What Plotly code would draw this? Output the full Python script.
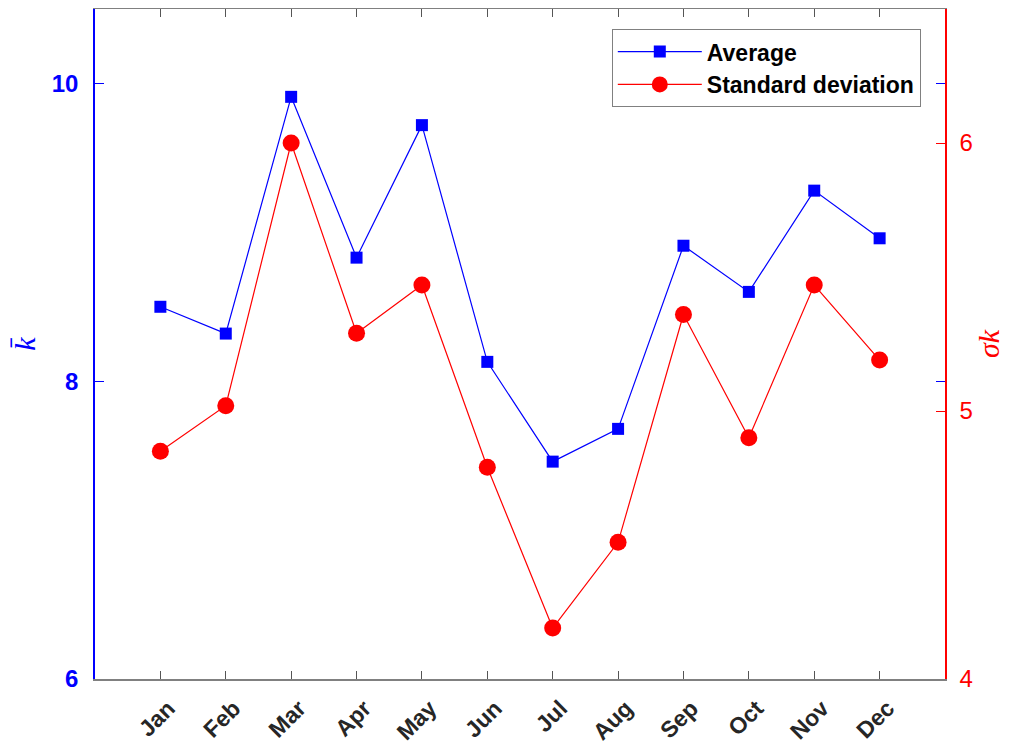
import plotly.graph_objects as go

months = ["Jan", "Feb", "Mar", "Apr", "May", "Jun", "Jul", "Aug", "Sep", "Oct", "Nov", "Dec"]
month_pos = list(range(1, 13))
average = [8.50, 8.32, 9.91, 8.83, 9.72, 8.13, 7.46, 7.68, 8.91, 8.60, 9.28, 8.96]
std_dev = [4.85, 5.02, 6.00, 5.29, 5.47, 4.79, 4.19, 4.51, 5.36, 4.90, 5.47, 5.19]

BLUE = "#0000FF"
RED = "#FF0000"
GREY = "#808080"
FONT = "Liberation Sans, Arial, sans-serif"

fig = go.Figure()
fig.add_trace(go.Scatter(
    x=month_pos, y=average, name="Average", mode="lines+markers",
    line=dict(color=BLUE, width=1.2),
    marker=dict(symbol="square", size=12, color=BLUE),
    yaxis="y",
))
fig.add_trace(go.Scatter(
    x=month_pos, y=std_dev, name="Standard deviation", mode="lines+markers",
    line=dict(color=RED, width=1.2),
    marker=dict(symbol="circle", size=17, color=RED),
    yaxis="y2",
))

fig.update_layout(
    width=1001, height=738,
    margin=dict(l=87, r=64, t=1, b=67),
    paper_bgcolor="white", plot_bgcolor="white",
    showlegend=True,
    legend=dict(
        x=0.608, y=0.97, xanchor="left", yanchor="top",
        bgcolor="white", bordercolor=GREY, borderwidth=1,
        font=dict(family=FONT, size=23, color="black", weight="bold"),
        itemwidth=84,
        tracegroupgap=0,
    ),
    xaxis=dict(
        range=[0, 13], tickmode="array", tickvals=month_pos, ticktext=months,
        tickangle=-45, ticks="inside", ticklen=8, tickcolor="#555555",
        showline=True, linecolor=GREY, linewidth=1.5, mirror="ticks",
        showgrid=False, zeroline=False,
        tickfont=dict(family=FONT, size=23, color="#262626", weight="bold"),
        ticklabelstandoff=5, ticklabelshift=8,
        automargin=False,
    ),
    yaxis=dict(
        range=[6, 10.5], tickvals=[6, 8, 10], ticks="inside", ticklen=9,
        tickcolor=BLUE, showline=True, linecolor=BLUE, linewidth=1.5,
        mirror="ticks", showgrid=False, zeroline=False,
        tickfont=dict(family=FONT, size=24, color=BLUE, weight="bold"),
        ticklabelstandoff=10,
        title=dict(text="<i>k̄</i>", font=dict(family="Liberation Serif, serif", size=30, color=BLUE), standoff=40),
        automargin=False,
    ),
    yaxis2=dict(
        range=[4, 6.5], tickvals=[4, 5, 6], ticks="inside", ticklen=9,
        tickcolor=RED, showline=True, linecolor=RED, linewidth=1.5,
        overlaying="y", side="right", showgrid=False, zeroline=False,
        tickfont=dict(family=FONT, size=24, color=RED),
        ticklabelstandoff=8,
        title=dict(text="<i>σk</i>", font=dict(family="Liberation Serif, serif", size=30, color=RED), standoff=6),
        automargin=False,
    ),
)

fig.write_html("out.html")
